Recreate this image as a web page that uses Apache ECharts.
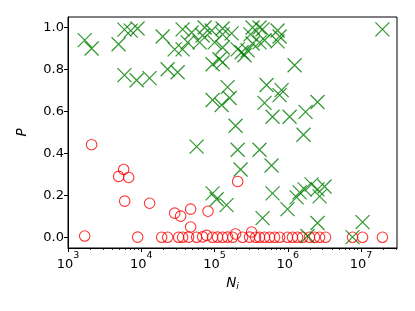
<!DOCTYPE html>
<html><head><meta charset="utf-8">
<script src="https://cdn.jsdelivr.net/npm/echarts@6/dist/echarts.min.js"></script>
<style>html,body{margin:0;padding:0;background:#fff}#c{width:415px;height:311px}</style>
</head><body><div id="c"></div>
<script>
// Green "x" series (N_i, P)
const greenN = [1690,2100,4900,5900,7200,8900,19600,5900,8650,13000,22900,31400,28600,36700,36700,43000,48700,68800,73300,62600,91500,100500,129000,129000,171000,129000,207000,235000,94200,117000,129000,331000,412000,453000,726000,773000,726000,412000,331000,482000,283000,257000,310000,1240000,19600000,151000,514000,824000,94200,125000,161000,482000,620000,773000,1060000,1750000,2550000,194000,1640000,57000,207000,412000,227000,601000,94200,107000,146000,620000,453000,993000,1320000,1450000,1700000,2110000,2550000,3180000,2720000,2550000,1860000,10500000,7660000];
const greenP = [0.94,0.90,0.92,0.99,0.985,0.995,0.957,0.773,0.749,0.759,0.801,0.787,0.896,0.991,0.896,0.929,0.976,0.962,1.0,0.929,0.986,0.929,0.967,0.995,0.972,0.905,0.896,0.882,0.825,0.849,0.834,1.0,1.0,0.991,0.986,0.957,0.934,0.929,0.924,0.939,0.891,0.868,0.967,0.82,0.991,0.716,0.726,0.702,0.655,0.631,0.664,0.641,0.575,0.678,0.575,0.598,0.645,0.532,0.489,0.433,0.418,0.418,0.324,0.343,0.21,0.182,0.154,0.21,0.092,0.135,0.191,0.215,0.229,0.253,0.229,0.243,0.196,0.069,0.007,0.073,0.002];
// Red "o" series (N_i, P)
const redN = [1690,2100,4920,5750,6730,5940,13000,8930,28600,34500,47200,47200,81500,207000,321000,194000,19000,22900,32400,36700,44300,57000,68800,78200,94200,110000,129000,151000,177000,242000,301000,364000,412000,482000,565000,661000,773000,993000,1160000,1360000,1590000,1980000,2320000,2720000,3280000,7660000,10500000,19600000];
const redP = [0.007,0.442,0.291,0.324,0.286,0.173,0.163,0.002,0.116,0.102,0.135,0.05,0.125,0.267,0.026,0.017,0.001,0.001,0.001,0.001,0.002,0.001,0.003,0.01,0.001,0.002,0.001,0.002,0.001,0.001,0.002,0.001,0.001,0.001,0.001,0.001,0.001,0.001,0.001,0.001,0.001,0.001,0.001,0.001,0.001,0.001,0.001,0.001];
const xMajor = [1e3,1e4,1e5,1e6,1e7];
const xMinor = [2e3,3e3,4e3,5e3,6e3,7e3,8e3,9e3,2e4,3e4,4e4,5e4,6e4,7e4,8e4,9e4,2e5,3e5,4e5,5e5,6e5,7e5,8e5,9e5,2e6,3e6,4e6,5e6,6e6,7e6,8e6,9e6,2e7,3e7];
const yTicks = [0,0.2,0.4,0.6,0.8,1.0];

const FONT = 'DejaVu Sans';
const chart = echarts.init(document.getElementById('c'), null, {renderer:'canvas'});
const zip = (a,b)=>a.map((v,i)=>[v,b[i]]);
const xRange = {min:1000, max:31000000};
chart.setOption({
  animation:false,
  backgroundColor:'#fff',
  grid:{left:68,right:18,top:17,bottom:63,show:true,borderColor:'#000',borderWidth:1,backgroundColor:'transparent'},
  xAxis:[{
    type:'log', logBase:10, min:xRange.min, max:xRange.max, position:'bottom',
    axisLine:{show:true,onZero:false,lineStyle:{color:'#000',width:1}},
    splitLine:{show:false}, minorTick:{show:false},
    axisTick:{show:true,length:4,inside:false,lineStyle:{color:'#000',width:1},customValues:xMajor},
    axisLabel:{color:'#000',margin:3,customValues:xMajor,
      formatter:v=>{const e=Math.round(Math.log10(v));return '{b|10}{s|'+e+'}';},
      rich:{b:{fontFamily:FONT,fontSize:13,color:'#000',lineHeight:20,verticalAlign:'bottom'},
            s:{fontFamily:FONT,fontSize:9.5,color:'#000',lineHeight:11,verticalAlign:'top'}}},
    name:'{n|N}{i|i}', nameLocation:'middle', nameGap:28,
    nameTextStyle:{rich:{n:{fontFamily:FONT,fontStyle:'italic',fontSize:13.5,color:'#000',lineHeight:16,verticalAlign:'top'},
                         i:{fontFamily:FONT,fontStyle:'italic',fontSize:9.5,color:'#000',lineHeight:11,verticalAlign:'bottom'}}}
  },{
    type:'log', logBase:10, min:xRange.min, max:xRange.max, position:'bottom', offset:0,
    axisLine:{show:false,onZero:false}, splitLine:{show:false}, axisLabel:{show:false},
    axisTick:{show:true,length:2,lineStyle:{color:'#000',width:0.8},customValues:xMinor}
  }],
  yAxis:{
    type:'value', min:-0.05, max:1.05,
    axisLine:{show:true,onZero:false,lineStyle:{color:'#000',width:1}},
    splitLine:{show:false},
    axisTick:{show:true,length:4,lineStyle:{color:'#000',width:1},customValues:yTicks},
    axisLabel:{color:'#000',fontFamily:FONT,fontSize:13,margin:4,customValues:yTicks,formatter:v=>v.toFixed(1)},
    name:'P', nameLocation:'middle', nameGap:39,
    nameTextStyle:{fontFamily:FONT,fontStyle:'italic',fontSize:13.5,color:'#000'}
  },
  series:[{
    type:'scatter', xAxisIndex:0, data:zip(redN,redP),
    symbol:'circle', symbolSize:10.5,
    itemStyle:{color:'rgba(0,0,0,0)',borderColor:'#ff0000',borderWidth:1.1}
  },{
    type:'scatter', xAxisIndex:0, data:zip(greenN,greenP),
    symbol:'path://M0,0L10,10M10,0L0,10', symbolSize:14,
    itemStyle:{color:'rgba(0,0,0,0)',borderColor:'#008000',borderWidth:1.25}
  }]
});
</script></body></html>
